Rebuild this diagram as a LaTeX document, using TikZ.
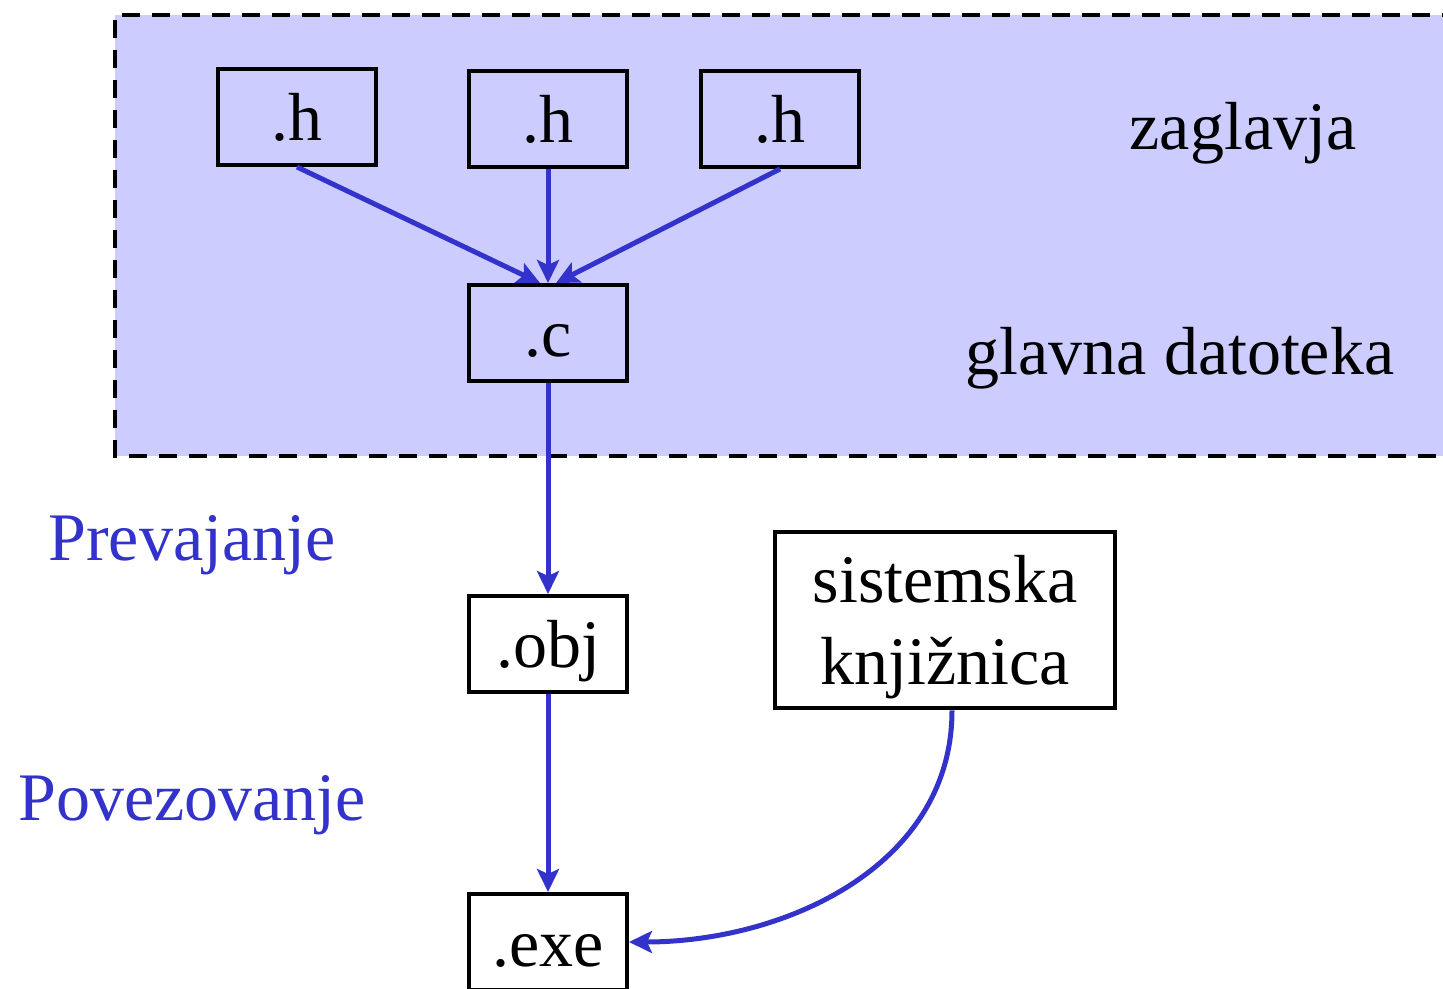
\documentclass[tikz,border=0pt]{standalone}
\usepackage{fontspec}
\setmainfont{Liberation Serif}
\usetikzlibrary{arrows.meta}
\definecolor{areafill}{HTML}{CCCCFF}
\definecolor{flowblue}{HTML}{3333CC}
\tikzset{
  filebox/.style={draw=black, line width=0.08cm, minimum width=3.16cm, minimum height=1.92cm,
    inner sep=0pt, font=\fontsize{38.7}{46}\selectfont},
  ext/.style={filebox, text height=1.28cm, text depth=0.32cm},
  flow/.style={draw=flowblue, line width=0.1cm, -{Stealth[length=0.46cm,width=0.44cm,inset=0.1cm]}},
  steplabel/.style={text=flowblue, anchor=base, font=\fontsize{38.7}{46}\selectfont},
  arealabel/.style={anchor=base, font=\fontsize{38.7}{46}\selectfont}
}
\begin{document}
\begin{tikzpicture}[x=0.02cm, y=-0.02cm]
  \useasboundingbox (0,0) rectangle (1443,989);
  \fill[white] (0,0) rectangle (1443,989);
  \draw[fill=areafill, line width=0.08cm, dash pattern=on 0.36cm off 0.24cm]
    (1460,15) -- (115,15) -- (115,456) -- (1460,456);
  \node[ext] (h1) at (297,117) {.h};
  \node[ext] (h2) at (548,119) {.h};
  \node[ext] (h3) at (780,119) {.h};
  \node[ext] (c) at (548,333) {.c};
  \node[ext] (obj) at (548,644) {.obj};
  \node[ext] (exe) at (548,942) {.exe};
  \node[filebox, minimum width=6.8cm, minimum height=3.54cm, align=center,
    text depth=0pt, font=\fontsize{38.7}{47}\selectfont] (lib) at (945,620) {sistemska\\knjižnica};
  \node[arealabel] (zag) at (1243,150) {zaglavja};
  \node[arealabel] (glavna) at (1180,375) {glavna datoteka};
  \node[steplabel] (prev) at (192,560) {Prevajanje};
  \node[steplabel] (pove) at (192,820) {Povezovanje};
  \draw[flow] (h1.south) -- ([xshift=-0.16cm]c.north);
  \draw[flow] (h2.south) -- (c.north);
  \draw[flow] (h3.south) -- ([xshift=0.16cm]c.north);
  \draw[flow] (c.south) -- (obj.north);
  \draw[flow] (obj.south) -- (exe.north);
  \draw[flow] ([xshift=0.14cm]lib.south) to[out=-90, in=0] (exe.east);
\end{tikzpicture}
\end{document}
